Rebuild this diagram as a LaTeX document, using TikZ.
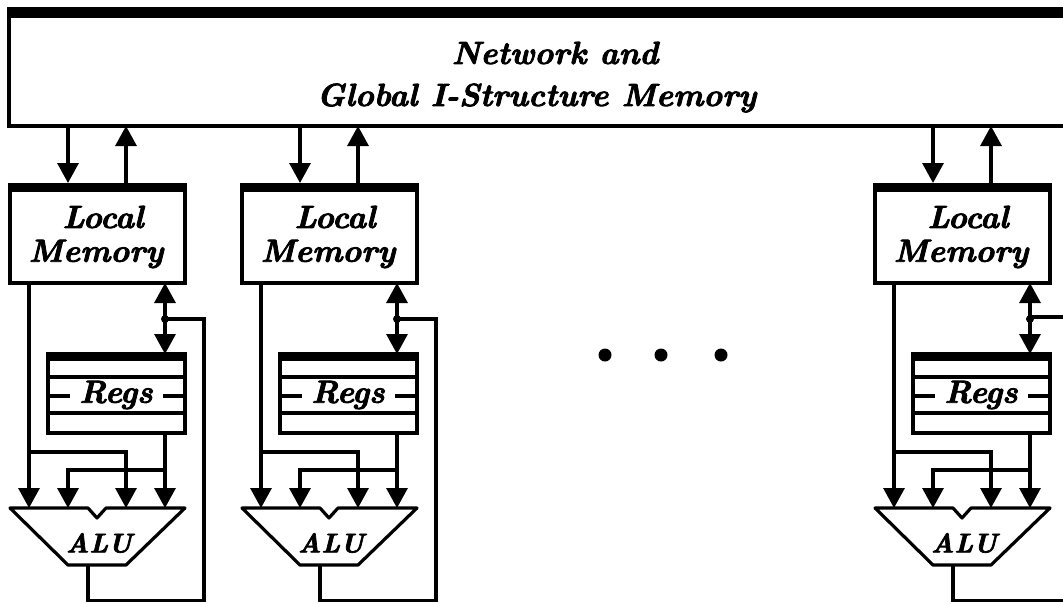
\documentclass[tikz,border=0pt]{standalone}
\usepackage{fontspec}
\newfontfamily\heavyfont[FakeBold=2.5]{lmroman10-bolditalic.otf}
\usetikzlibrary{arrows.meta,calc}
\tikzset{
  wire/.style={line width=3.2pt,line join=miter},
  arr/.style={wire,-{Triangle[length=20pt,width=21pt]}},
  darr/.style={wire,{Triangle[length=20pt,width=21pt]}-{Triangle[length=20pt,width=21pt]}},
  box/.style={draw,line width=3.2pt,inner sep=0pt,outer sep=0pt},
  lab/.style={font=\fontsize{#1}{#1}\heavyfont\selectfont,inner sep=0pt},
  lab/.default=32pt
}
\newcommand{\column}[2]{%
\begin{scope}[xshift=#2pt]
  % local memory
  \node[box,minimum width=175pt,minimum height=98pt] (lm#1) at (97.5,234) {};
  \fill (lm#1.north west) ++(-1.6,-1.6) rectangle ($(lm#1.north east)+(1.6,7)$);
  \node[lab] (lmA#1) at (103,217) {Local};
  \node[lab] (lmB#1) at (96,254) {Memory};
  % registers
  \node[box,minimum width=137pt,minimum height=79pt] (rg#1) at (116.5,393.5) {};
  \fill (rg#1.north west) ++(-1.6,-1.6) rectangle ($(rg#1.north east)+(1.6,7)$);
  \draw[wire] (rg#1.west |- 0,377) -- (rg#1.east |- 0,377);
  \draw[wire] (rg#1.west |- 0,413) -- (rg#1.east |- 0,413);
  \draw[wire] (rg#1.west |- 0,396) -- (70,396);
  \draw[wire] (163,396) -- (rg#1.east |- 0,396);
  \node[lab] (rgT#1) at (116,395) {Regs};
  % ALU
  \coordinate (alA#1) at (29,508);
  \coordinate (alB#1) at (68,508);
  \coordinate (alC#1) at (126,508);
  \coordinate (alD#1) at (165,508);
  \coordinate (alO#1) at (88,565);
  \draw[wire,line join=round,fill=white] (10,508) -- (88,508) -- (97,518) -- (106,508) -- (185,508)
     -- (126,565) -- (68,565) -- cycle;
  \node[lab=27pt] (alT#1) at (99,543) {ALU};
  % connectors
  \coordinate (dn#1) at (68,183);
  \coordinate (up#1) at (126,183);
  \draw[arr] (net.south -| dn#1) -- (dn#1);
  \draw[arr] (up#1) -- (net.south -| up#1);
  \coordinate (jn#1) at (165,319);
  \draw[darr] (lm#1.south -| jn#1) -- (rg#1.north -| jn#1);
  \fill (jn#1) circle (4pt);
  \draw[arr] (lm#1.south -| alA#1) -- (alA#1);
  \coordinate (brA#1) at (29,452);
  \draw[arr] (brA#1) -- (126,452) -- (alC#1);
  \draw[arr] (rg#1.south -| alD#1) -- (alD#1);
  \coordinate (brB#1) at (165,470);
  \draw[arr] (brB#1) -- (68,470) -- (alB#1);
\end{scope}}
\begin{document}
\begin{tikzpicture}[x=1pt,y=-1pt]
  \useasboundingbox[fill=white] (0,0) rectangle (1063,603);
  % network
  \node[inner sep=0pt,outer sep=0pt,minimum width=1054pt,minimum height=110pt] (net) at (536,71) {};
  \fill (7.4,7) rectangle (1063,16.5);
  \draw[wire] (net.north east) -- (net.north west) -- (net.south west) -- (net.south east);
  \node[lab] (netA) at (555,53) {Network and};
  \node[lab] (netB) at (536.5,98) {Global I-Structure Memory};
  \column{a}{0}
  \column{b}{232}
  \column{c}{865}
  % feedback paths
  \coordinate (fbA) at (204,600.5);
  \coordinate (fbB) at (436,600.5);
  \coordinate (fbCa) at (1063,600.5);
  \coordinate (fbCb) at (1063,317);
  \draw[wire] (alOa) -- (alOa |- fbA) -- (fbA) -- (fbA |- jna) -- (jna);
  \draw[wire] (alOb) -- (alOb |- fbB) -- (fbB) -- (fbB |- jnb) -- (jnb);
  \draw[wire] (alOc) -- (alOc |- fbCa) -- (fbCa);
  \draw[wire] (jnc) -- (jnc |- fbCb) -- (fbCb);
  % ellipsis dots
  \fill (605,355) circle (6.5pt) (661,355) circle (6.5pt) (721,355) circle (6.5pt);
\end{tikzpicture}
\end{document}
